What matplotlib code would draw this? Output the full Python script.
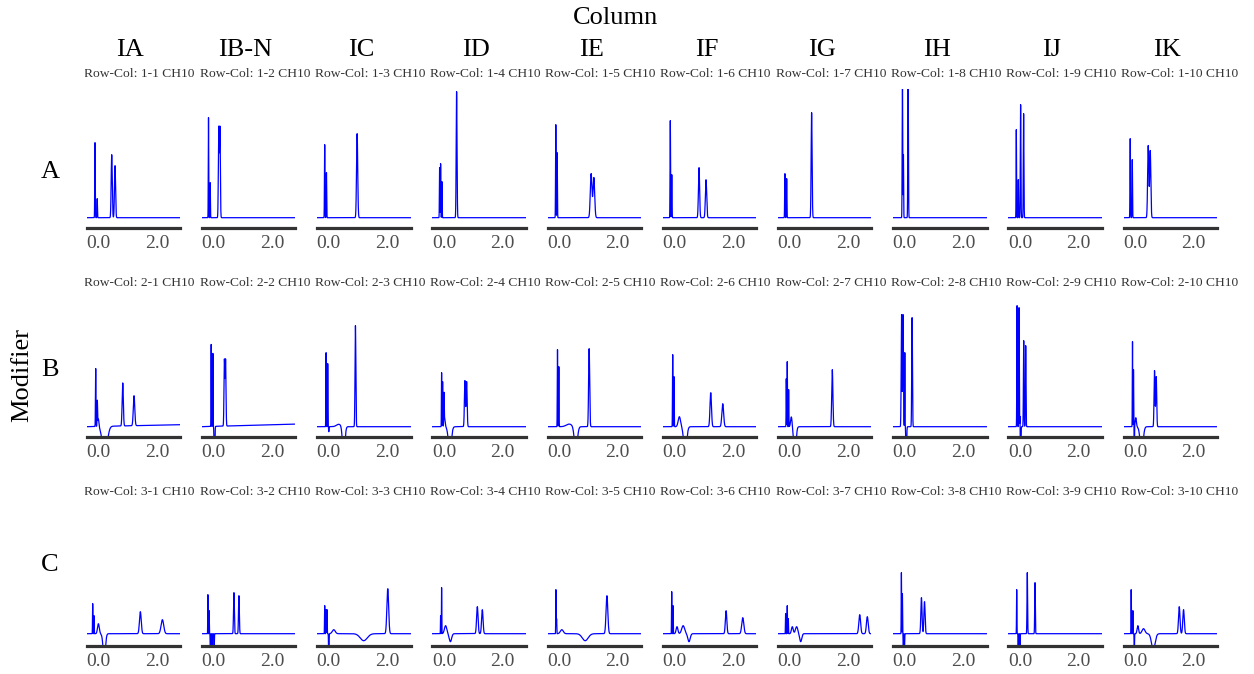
import numpy as np
import matplotlib
matplotlib.use("Agg")
import matplotlib.pyplot as plt
from matplotlib.transforms import Bbox

plt.rcParams['font.family'] = ['Liberation Serif', 'DejaVu Serif']

# facet labels
col_labels = ['IA', 'IB-N', 'IC', 'ID', 'IE', 'IF', 'IG', 'IH', 'IJ', 'IK']
row_labels = ['A', 'B', 'C']
x_ticks = [0.0, 2.0]
x_tick_labels = ['0.0', '2.0']

# peaks: (retention time, height mAU, width)
# negative height = dip below baseline
peaks_A = [
    [(-0.116, 375, .008), (-0.04, 95, .008), (0.456, 315, .018), (0.569, 260, .018)],
    [(-0.174, 500, .007), (-0.116, 175, .007), (0.177, 450, .014), (0.217, 450, .014)],
    [(-0.14, 365, .008), (-0.08, 225, .008), (0.97, 420, .02)],
    [(-0.15, 250, .007), (-0.116, 270, .007), (-0.07, 180, .007), (0.432, 630, .014)],
    [(-0.116, 465, .008), (-0.07, 325, .008), (1.093, 220, .028), (1.186, 200, .028)],
    [(-0.14, 485, .008), (-0.09, 215, .008), (0.843, 250, .02), (1.083, 190, .022)],
    [(-0.16, 220, .008), (-0.10, 195, .008), (0.754, 525, .016)],
    [(-0.08, 700, .009), (-0.047, 315, .007), (0.114, 700, .01)],
    [(-0.126, 440, .007), (-0.058, 190, .007), (0.021, 565, .01), (0.124, 520, .01)],
    [(-0.17, 395, .008), (-0.10, 290, .008), (0.446, 360, .02), (0.515, 335, .02)],
]
peaks_B = [
    [(-0.092, 290, .008), (-0.037, 125, .008), (0.0, 40, .02), (0.22, -150, .08),
     (0.833, 215, .02), (1.22, 150, .025)],
    [(-0.082, 410, .006), (-0.024, 365, .006), (0.03, -200, .012),
     (0.37, 330, .014), (0.41, 330, .014)],
    [(-0.092, 370, .007), (-0.037, 315, .007), (0.0, -25, .006), (0.34, 12, .08),
     (0.51, -150, .04), (0.912, 505, .014)],
    [(-0.082, 270, .006), (-0.047, 225, .006), (0.0, 145, .007), (0.02, 45, .02),
     (0.2, -120, .05), (0.716, 230, .017), (0.775, 225, .017)],
    [(-0.058, 385, .007), (-0.013, 300, .007), (0.34, 13, .1), (0.57, -120, .05),
     (1.025, 390, .018)],
    [(-0.058, 360, .007), (-0.013, 250, .007), (0.17, 50, .04), (0.37, -130, .05),
     (1.244, 170, .025), (1.655, 115, .03)],
    [(-0.113, 240, .006), (-0.08, 325, .006), (-0.033, 185, .006), (0.06, 50, .025),
     (0.18, -130, .04), (1.462, 285, .02)],
    [(-0.11, 560, .013), (-0.06, 560, .013), (0.0, 370, .006), (0.05, -200, .012),
     (0.25, 545, .012)],
    [(-0.1, 605, .008), (-0.033, 595, .008), (0.0, 75, .005), (0.02, -200, .01),
     (0.127, 430, .01), (0.195, 405, .01)],
    [(-0.092, 425, .006), (-0.058, 285, .006), (-0.03, -120, .006), (0.02, 45, .02),
     (0.22, -130, .05), (0.662, 280, .016), (0.72, 250, .016)],
]
peaks_C = [
    [(-0.195, 150, .006), (-0.15, 90, .006), (0.0, 50, .03), (0.2, -120, .04),
     (1.436, 110, .03), (2.19, 70, .045)],
    [(-0.195, 195, .005), (-0.15, 115, .005), (-0.11, -120, .006), (-0.05, -100, .006),
     (0.02, -80, .006), (0.696, 205, .014), (0.867, 190, .014)],
    [(-0.14, 140, .006), (-0.092, 120, .006), (-0.06, 120, .006), (0.0, -120, .008),
     (0.17, 20, .05), (1.196, -35, .12), (2.018, 225, .03)],
    [(-0.116, 90, .005), (-0.082, 230, .005), (0.055, 40, .04), (0.22, -40, .04),
     (1.141, 135, .025), (1.312, 120, .025)],
    [(-0.112, 220, .006), (-0.09, 75, .006), (0.09, 20, .05), (0.89, -35, .1),
     (1.634, 190, .03)],
    [(-0.092, 210, .006), (-0.045, 140, .006), (0.09, 35, .03), (0.3, 40, .05),
     (0.5, -40, .04), (1.77, 115, .025), (2.34, 80, .035)],
    [(-0.136, 100, .006), (-0.08, 140, .006), (-0.044, 75, .006), (0.093, 35, .03),
     (0.24, 35, .04), (0.38, -40, .035), (2.4, 95, .03), (2.66, 85, .03)],
    [(-0.116, 305, .006), (-0.082, 200, .006), (-0.05, -100, .006), (-0.01, -80, .006),
     (0.57, 180, .02), (0.675, 160, .02)],
    [(-0.113, 220, .006), (-0.06, -80, .006), (0.0, -60, .006), (0.25, 305, .01),
     (0.514, 255, .01)],
    [(-0.137, 220, .006), (-0.08, 115, .006), (-0.03, -100, .006), (0.09, 40, .025),
     (0.285, 25, .05), (0.62, -80, .06), (1.508, 135, .025), (1.655, 120, .025)],
]
all_peaks = [peaks_A, peaks_B, peaks_C]

# baseline level per row and baseline rise at run end (row B)
row_baseline = [0, 0, 10]
drift_B = [10, 13, 0, 0, 0, 0, 0, 0, 0, 0]
drifts = [[0] * 10, drift_B, [0] * 10]

t_min, t_max = -0.4, 2.8
t = np.linspace(t_min, t_max, 3201)

W, H = 1254, 674
fig = plt.figure(figsize=(W / 100, H / 100), dpi=100)


def box(left, top, w, h):
    return [left / W, 1 - (top + h) / H, w / W, h / H]


panel_w, panel_h = 93.5, 139
for r in range(3):
    for c in range(10):
        left = 86.7 + 115.2 * c
        bottom = 227.7 + 209 * r
        ax = fig.add_axes(box(left, bottom - panel_h, panel_w, panel_h))

        sig = np.full_like(t, row_baseline[r], dtype=float)
        sig += drifts[r][c] * (t - t_min) / (t_max - t_min)
        for rt, h, w in all_peaks[r][c]:
            sig += h * np.exp(-0.5 * ((t - rt) / w) ** 2)
        ax.plot(t, sig, color='#0000FF', lw=0.9)

        ax.set_xlim(t_min, t_max)
        ax.set_ylim(-50, 645)
        for s in ['left', 'right', 'top']:
            ax.spines[s].set_visible(False)
        ax.spines['bottom'].set_linewidth(2.3)
        ax.spines['bottom'].set_color('#333333')
        ax.set_yticks([])
        ax.set_xticks(x_ticks)
        ax.set_xticklabels(x_tick_labels)
        ax.tick_params(axis='x', length=0, pad=5, labelsize=14, labelcolor='#4D4D4D')
        ax.patch.set_alpha(0)

        # panel title, left aligned just before the panel
        txt = fig.text((left - 2.4) / W, 1 - (74 + 209 * r) / H,
                       'Row-Col: %d-%d CH10' % (r + 1, c + 1),
                       fontsize=9.7, color='#333333', ha='left', va='center')
        if c == 0:
            txt.set_clip_on(True)
            txt.set_clip_box(Bbox([[85, 0], [W, H]]))

for c, lab in enumerate(col_labels):
    fig.text((86.7 + 115.2 * c + panel_w / 2 - 3) / W, 1 - 50 / H, lab,
             fontsize=19, ha='center', va='center')

for r, (lab, yc) in enumerate(zip(row_labels, [172, 370, 565])):
    fig.text(50 / W, 1 - yc / H, lab, fontsize=19, ha='center', va='center')

fig.text(616 / W, 1 - 18 / H, 'Column', fontsize=19, ha='center', va='center')
fig.text(22 / W, 1 - 375 / H, 'Modifier', fontsize=19, ha='center', va='center',
         rotation=90)

fig.savefig('out.png', dpi=100)
